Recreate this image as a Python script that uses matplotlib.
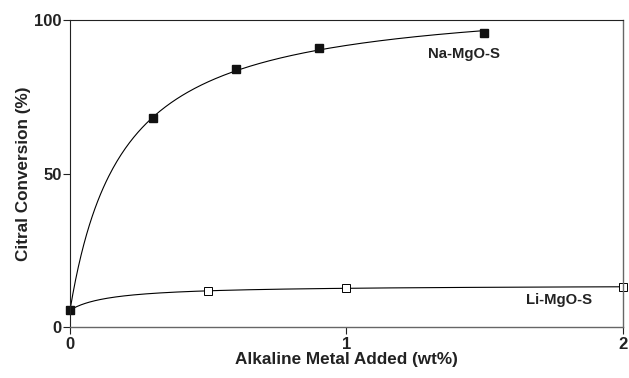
import numpy as np
import matplotlib.pyplot as plt

plt.rcParams['font.family'] = ['Liberation Sans', 'DejaVu Sans']
plt.rcParams['font.weight'] = 'bold'

# data
na_x = np.array([0, 0.3, 0.6, 0.9, 1.5])
na_y = np.array([5.5, 68, 84, 90.8, 95.8])
li_x = np.array([0, 0.5, 1.0, 2.0])
li_y = np.array([5.5, 11.7, 12.8, 13])


def fit_curve(x, y):
    # y = y0 + a*x/(b+x), grid over b with least squares for a
    y0 = y[0]
    best = None
    for b in np.linspace(0.01, 2, 400):
        g = x / (b + x)
        a = np.sum(g * (y - y0)) / np.sum(g * g)
        err = np.sum((y0 + a * g - y) ** 2)
        if best is None or err < best[0]:
            best = (err, a, b)
    return y0, best[1], best[2]


fig = plt.figure(figsize=(6.29, 3.78), dpi=100)
ax = fig.add_axes([0.1113, 0.1349, 0.8785, 0.8121])

xs = np.linspace(0, 2, 400)
y0, a, b = fit_curve(na_x, na_y)
xn = xs[xs <= 1.5]
ax.plot(xn, y0 + a * xn / (b + xn), color='black', lw=0.8)
y0, a, b = fit_curve(li_x, li_y)
ax.plot(xs, y0 + a * xs / (b + xs), color='black', lw=0.8)

ax.plot(li_x, li_y, 's', color='black', mfc='white', ms=5.8, mew=0.7, clip_on=False)
ax.plot(na_x, na_y, 's', color='#111111', ms=6.2, clip_on=False)

ax.text(1.426, 89, 'Na-MgO-S', ha='center', va='center', fontsize=10.7, fontweight='bold', color='#222222')
ax.text(1.77, 8.8, 'Li-MgO-S', ha='center', va='center', fontsize=10.7, fontweight='bold', color='#222222')

ax.set_xlim(0, 2)
ax.set_ylim(0, 100)
ax.set_xticks([0, 1, 2])
ax.set_yticks([0, 50, 100])
ax.tick_params(direction='out', length=5, width=0.8, labelsize=12, colors='#222222')
ax.tick_params(axis='y', pad=1)
ax.tick_params(axis='x', pad=2.5)
ax.set_xlabel('Alkaline Metal Added (wt%)', fontsize=12.3, fontweight='bold', color='#222222', labelpad=0)
ax.set_ylabel('Citral Conversion (%)', fontsize=12.3, fontweight='bold', color='#222222', labelpad=2)

for s in ['left', 'top']:
    ax.spines[s].set_color('#222222')
    ax.spines[s].set_linewidth(0.8)
for s in ['right', 'bottom']:
    ax.spines[s].set_color('#666666')
    ax.spines[s].set_linewidth(1.0)

fig.savefig('out.png', dpi=100)
